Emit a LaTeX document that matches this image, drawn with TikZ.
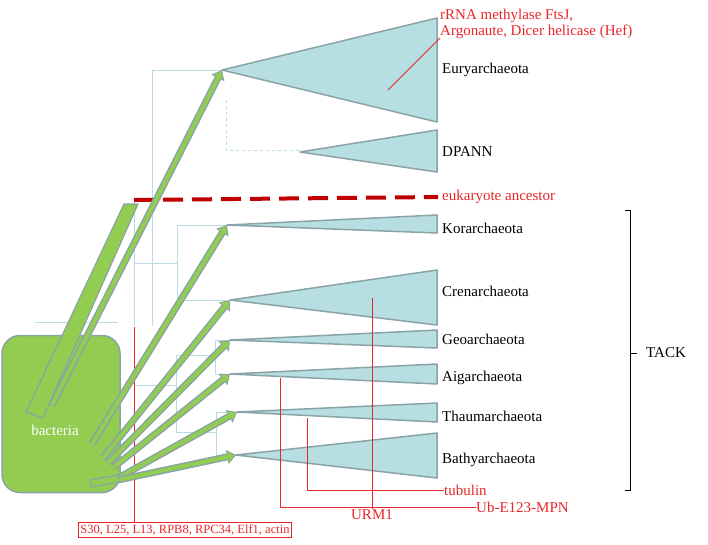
\documentclass[tikz,border=0pt]{standalone}
\usepackage{fontspec}
\setmainfont{Liberation Serif}
\usetikzlibrary{positioning,arrows.meta}
\definecolor{cladefill}{HTML}{B7DEE2}
\definecolor{cladeline}{HTML}{8AA3A6}
\definecolor{treeline}{HTML}{B9DCE0}
\definecolor{bactgreen}{HTML}{92CC50}
\definecolor{genered}{HTML}{E8262A}
\definecolor{ancred}{HTML}{C00000}
\tikzset{
	clade/.style={fill=cladefill, draw=cladeline, line width=1.5pt, line join=round},
	branch/.style={draw=treeline, line width=0.6pt},
	taxon/.style={anchor=west, font=\fontsize{15}{17}\selectfont, inner sep=0pt},
	gene/.style={anchor=west, font=\fontsize{15}{16}\selectfont, text=genered, inner sep=0pt, align=left},
	genelink/.style={draw=genered, line width=0.8pt},
	hgtout/.style={draw=cladeline, line width=7pt, -{Triangle[length=9pt,width=14pt]}},
	hgtin/.style={draw=bactgreen, line width=4pt, shorten >=1.6pt, -{Triangle[length=6.5pt,width=10pt]}},
}
\begin{document}
\begin{tikzpicture}[x=1pt,y=-1pt]
	\useasboundingbox (0,0) rectangle (708,544);
	%Tree
	\draw[branch] (152,70) -- (152,326) (35,322) -- (118,322) (152,70) -- (222,70);
	\draw[branch, dashed] (226,100) -- (226,150) -- (300,150);
	\draw[branch] (134,200) -- (134,325) (134,263) -- (177,263) (177,225) -- (177,300)
		(177,225) -- (227,225) (177,300) -- (230,300);
	\draw[branch] (134,385) -- (176,385) (176,355) -- (176,432) (176,355) -- (215,355)
		(215,340) -- (215,374) (215,340) -- (230,340) (215,374) -- (230,374)
		(176,432) -- (216,432) (216,412) -- (216,455) (216,412) -- (237,412) (216,455) -- (236,455);
	%Clades
	\coordinate (euryt) at (222,70);
	\coordinate (korat) at (227,225);
	\coordinate (crent) at (230,300);
	\coordinate (geot) at (230,340);
	\coordinate (aigt) at (230,374);
	\coordinate (thaut) at (237,412);
	\coordinate (batht) at (236,455);
	\draw[clade] (euryt) -- (437,18) -- (437,122) -- cycle;
	\draw[clade] (300,152) -- (437,130) -- (437,172) -- cycle;
	\draw[clade] (korat) -- (437,215) -- (437,233) -- cycle;
	\draw[clade] (crent) -- (437,270) -- (437,325) -- cycle;
	\draw[clade] (geot) -- (437,330) -- (437,348) -- cycle;
	\draw[clade] (aigt) -- (437,364) -- (437,384) -- cycle;
	\draw[clade] (thaut) -- (437,403) -- (437,422) -- cycle;
	\draw[clade] (batht) -- (437,433) -- (437,478) -- cycle;
	\node[taxon] (eury) at (442,70) {Euryarchaeota};
	\node[taxon] (dpann) at (442,152) {DPANN};
	\node[taxon] (kora) at (442,228) {Korarchaeota};
	\node[taxon] (cren) at (442,291) {Crenarchaeota};
	\node[taxon] (geo) at (442,339) {Geoarchaeota};
	\node[taxon] (aig) at (442,378) {Aigarchaeota};
	\node[taxon] (thau) at (442,416) {Thaumarchaeota};
	\node[taxon] (bath) at (442,460) {Bathyarchaeota};
	\draw[line width=1pt] (625,210) -- (630,210) -- (630,490) -- (625,490) (630,353) -- (637,353);
	\node[taxon] (tack) at (646,353) {TACK};
	%Eukaryote ancestor
	\draw[ancred, line width=4pt, dash pattern=on 20pt off 9pt] (134,200) -- (438,197);
	\node[gene] (euk) at (442,197) {eukaryote ancestor};
	%Genes
	\node[gene] (ftsj) at (440,24) {rRNA methylase FtsJ,\\Argonaute, Dicer helicase (Hef)};
	\draw[genelink] (388,90) -- (440,38);
	\node[gene, draw=genered, font=\fontsize{12.5}{13}\selectfont, inner sep=2pt, anchor=center] (ribo) at (185,530) {S30, L25, L13, RPB8, RPC34, Elf1, actin};
	\draw[genelink] (134,327) -- (ribo.north -| 134,0);
	\node[gene, anchor=north] (urm) at (372,509) {URM1};
	\draw[genelink] (372,298) -- (urm.north);
	\node[gene] (ube) at (476,507) {Ub-E123-MPN};
	\draw[genelink] (280,378) -- (280,507) -- (ube.west);
	\node[gene] (tub) at (444,490) {tubulin};
	\draw[genelink] (307,418) -- (307,490) -- (tub.west);
	%Bacteria
	\node[fill=bactgreen, draw=cladeline, line width=1.5pt, rounded corners=18pt,
		minimum width=118pt, minimum height=157pt] (bact) at (61,414) {};
	\node[text=white, font=\fontsize{15}{17}\selectfont] at (55,430) {bacteria};
	\draw[fill=bactgreen, draw=cladeline, line width=1.2pt, line join=round]
		(26,412) -- (124,204) -- (138,204) -- (43,418) -- cycle;
	\foreach \sx/\sy/\e in {52/405/euryt, 92/444/korat, 103/458/crent, 108/463/geot, 114/467/aigt, 118/478/thaut, 118/480/batht}{
		\draw[hgtout] (\sx,\sy) -- (\e);
		\draw[hgtin] (\sx,\sy) -- (\e);
	}
	\draw[fill=bactgreen, draw=cladeline, line width=1.2pt] (90,480) -- (118,475) -- (119,482) -- (91,487) -- cycle;
\end{tikzpicture}
\end{document}
